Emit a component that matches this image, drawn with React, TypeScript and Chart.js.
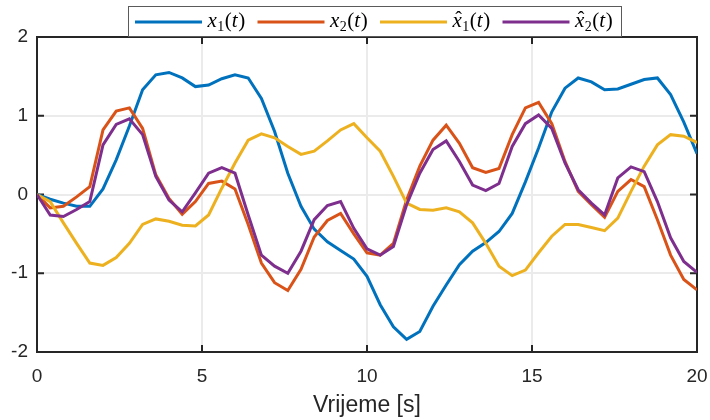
import { useEffect, useRef } from "react";
import { Chart, registerables } from "chart.js";

Chart.register(...registerables);

// Simulation time [s]
const time = [
  0, 0.4, 0.8, 1.2, 1.6, 2.0, 2.4, 2.8, 3.2, 3.6, 4.0, 4.4, 4.8, 5.2, 5.6, 6.0, 6.4,
  6.8, 7.2, 7.6, 8.0, 8.4, 8.8, 9.2, 9.6, 10.0, 10.4, 10.8, 11.2, 11.6, 12.0, 12.4,
  12.8, 13.2, 13.6, 14.0, 14.4, 14.8, 15.2, 15.6, 16.0, 16.4, 16.8, 17.2, 17.6, 18.0,
  18.4, 18.8, 19.2, 19.6, 20.0,
];

// States x1(t), x2(t)
const x1 = [
  0, -0.06, -0.11, -0.15, -0.15, 0.07, 0.44, 0.87, 1.33, 1.52, 1.55, 1.48, 1.37, 1.39,
  1.47, 1.52, 1.48, 1.22, 0.8, 0.27, -0.15, -0.44, -0.6, -0.71, -0.82, -1.04, -1.4,
  -1.68, -1.84, -1.74, -1.42, -1.15, -0.89, -0.72, -0.61, -0.47, -0.24, 0.16, 0.59,
  1.05, 1.35, 1.48, 1.43, 1.33, 1.34, 1.4, 1.46, 1.48, 1.27, 0.92, 0.52,
];
const x2 = [
  0, -0.17, -0.15, -0.03, 0.1, 0.82, 1.06, 1.1, 0.84, 0.25, -0.05, -0.25, -0.09, 0.14,
  0.17, 0.07, -0.38, -0.87, -1.12, -1.22, -0.95, -0.54, -0.33, -0.24, -0.5, -0.74,
  -0.77, -0.62, -0.07, 0.36, 0.69, 0.88, 0.65, 0.34, 0.28, 0.33, 0.76, 1.1, 1.17, 0.9,
  0.42, 0.04, -0.13, -0.29, 0.04, 0.19, 0.1, -0.32, -0.77, -1.08, -1.21,
];

// Estimates x̂1(t), x̂2(t)
const x1Hat = [
  0, -0.09, -0.36, -0.62, -0.87, -0.9, -0.8, -0.62, -0.38, -0.31, -0.34, -0.39, -0.4,
  -0.26, 0.08, 0.4, 0.69, 0.77, 0.72, 0.61, 0.51, 0.55, 0.68, 0.82, 0.9, 0.72, 0.55,
  0.23, -0.11, -0.19, -0.2, -0.17, -0.22, -0.36, -0.62, -0.91, -1.03, -0.96, -0.74,
  -0.53, -0.38, -0.38, -0.42, -0.46, -0.3, 0.04, 0.36, 0.63, 0.76, 0.74, 0.66,
];
const x2Hat = [
  0, -0.26, -0.28, -0.19, -0.09, 0.63, 0.89, 0.96, 0.76, 0.23, -0.07, -0.22, 0.02, 0.27,
  0.34, 0.27, -0.26, -0.77, -0.91, -1.0, -0.72, -0.32, -0.14, -0.09, -0.43, -0.69,
  -0.77, -0.66, -0.13, 0.27, 0.57, 0.68, 0.42, 0.12, 0.05, 0.14, 0.61, 0.9, 1.01, 0.84,
  0.4, 0.06, -0.11, -0.26, 0.21, 0.35, 0.29, -0.09, -0.55, -0.85, -0.99,
];

const xAxisTitle = "Vrijeme [s]";

const seriesColors = ["#0072BD", "#D95319", "#EDB120", "#7E2F8E"];
const legendEntries = [
  { base: "x", sub: "1", hat: false },
  { base: "x", sub: "2", hat: false },
  { base: "x", sub: "1", hat: true },
  { base: "x", sub: "2", hat: true },
];

const AXIS_COLOR = "#262626";
const SANS = "'Liberation Sans', Arial, sans-serif";
const SERIF = "'Liberation Serif', 'Times New Roman', serif";

const toPoints = (ys: number[]) => time.map((t, i) => ({ x: t, y: ys[i] }));

// Full axes box with inward tick marks on all four sides
const boxPlugin = {
  id: "matlabBox",
  beforeDatasetsDraw(chart: any) {
    const { ctx, chartArea } = chart;
    const { left, right, top, bottom } = chartArea;
    const tick = 7;
    ctx.save();
    ctx.strokeStyle = AXIS_COLOR;
    ctx.lineWidth = 2;
    ctx.beginPath();
    for (const t of chart.scales.x.ticks) {
      const px = chart.scales.x.getPixelForValue(t.value);
      ctx.moveTo(px, bottom);
      ctx.lineTo(px, bottom - tick);
      ctx.moveTo(px, top);
      ctx.lineTo(px, top + tick);
    }
    for (const t of chart.scales.y.ticks) {
      const py = chart.scales.y.getPixelForValue(t.value);
      ctx.moveTo(left, py);
      ctx.lineTo(left + tick, py);
      ctx.moveTo(right, py);
      ctx.lineTo(right - tick, py);
    }
    ctx.stroke();
    ctx.strokeRect(left, top, right - left, bottom - top);
    ctx.restore();
  },
};

// Legend with math-style labels, drawn in a single row above the axes
const legendPlugin = {
  id: "mathLegend",
  afterDraw(chart: any) {
    const { ctx } = chart;
    const boxLeft = 128;
    const boxTop = 6.5;
    const boxW = 494;
    const boxH = 30;
    const baseline = 27;
    const lineY = 22;
    ctx.save();
    ctx.fillStyle = "#ffffff";
    ctx.fillRect(boxLeft, boxTop, boxW, boxH);
    ctx.strokeStyle = "#5a5a5a";
    ctx.lineWidth = 1;
    ctx.strokeRect(boxLeft + 0.5, boxTop, boxW - 1, boxH);

    legendEntries.forEach((entry, i) => {
      const x0 = 135 + 122.5 * i;
      ctx.strokeStyle = seriesColors[i];
      ctx.lineWidth = 3;
      ctx.beginPath();
      ctx.moveTo(x0, lineY);
      ctx.lineTo(x0 + 67, lineY);
      ctx.stroke();

      let tx = x0 + 72.5;
      ctx.fillStyle = "#000000";
      ctx.textBaseline = "alphabetic";
      ctx.textAlign = "left";

      ctx.font = `italic 21px ${SERIF}`;
      const baseW = ctx.measureText(entry.base).width;
      ctx.fillText(entry.base, tx, baseline);
      if (entry.hat) {
        ctx.font = `20px ${SERIF}`;
        ctx.textAlign = "center";
        ctx.fillText("\u02C6", tx + baseW / 2 + 1.5, baseline - 1);
        ctx.textAlign = "left";
      }
      tx += baseW + 0.5;

      ctx.font = `14px ${SERIF}`;
      ctx.fillText(entry.sub, tx, baseline + 4);
      tx += ctx.measureText(entry.sub).width + 0.5;

      ctx.font = `21px ${SERIF}`;
      ctx.fillText("(", tx, baseline);
      tx += ctx.measureText("(").width;
      ctx.font = `italic 21px ${SERIF}`;
      ctx.fillText("t", tx, baseline);
      tx += ctx.measureText("t").width + 0.5;
      ctx.font = `21px ${SERIF}`;
      ctx.fillText(")", tx, baseline);
    });
    ctx.restore();
  },
};

export default function App() {
  const canvasRef = useRef<HTMLCanvasElement | null>(null);

  useEffect(() => {
    const canvas = canvasRef.current;
    if (!canvas) return;
    const series = [x1, x2, x1Hat, x2Hat];
    const chart = new Chart(canvas, {
      type: "line",
      data: {
        datasets: series.map((ys, i) => ({
          label: `series${i + 1}`,
          data: toPoints(ys),
          borderColor: seriesColors[i],
          backgroundColor: seriesColors[i],
          borderWidth: 3,
          pointRadius: 0,
          tension: 0,
          fill: false,
          order: 4 - i,
        })),
      },
      options: {
        responsive: false,
        animation: false,
        events: [],
        layout: { padding: { top: 37, right: 13, left: 0, bottom: 0 } },
        plugins: {
          legend: { display: false },
          tooltip: { enabled: false },
          title: { display: false },
        },
        scales: {
          x: {
            type: "linear",
            min: 0,
            max: 20,
            border: { display: false },
            grid: { color: "#ebebeb", lineWidth: 2, drawTicks: false },
            ticks: {
              stepSize: 5,
              autoSkip: false,
              maxRotation: 0,
              padding: 13,
              color: AXIS_COLOR,
              font: { family: SANS, size: 19 },
            },
            title: {
              display: true,
              text: xAxisTitle,
              color: AXIS_COLOR,
              font: { family: SANS, size: 23, lineHeight: 1 },
              padding: { top: 0, bottom: 3 },
            },
            afterFit(scale: any) {
              scale.height = 68;
              scale.paddingLeft = 0;
              scale.paddingRight = 0;
            },
          },
          y: {
            type: "linear",
            min: -2,
            max: 2,
            border: { display: false },
            grid: { color: "#ebebeb", lineWidth: 2, drawTicks: false },
            ticks: {
              stepSize: 1,
              padding: 9,
              color: AXIS_COLOR,
              font: { family: SANS, size: 19 },
            },
            afterFit(scale: any) {
              scale.width = 37;
              scale.paddingTop = 0;
              scale.paddingBottom = 0;
            },
          },
        },
      },
      plugins: [boxPlugin, legendPlugin],
    });
    return () => chart.destroy();
  }, []);

  return (
    <div
      style={{
        position: "fixed",
        left: 0,
        top: 0,
        width: 710,
        height: 420,
        background: "#ffffff",
      }}
    >
      <canvas ref={canvasRef} width={710} height={420} style={{ display: "block" }} />
    </div>
  );
}
